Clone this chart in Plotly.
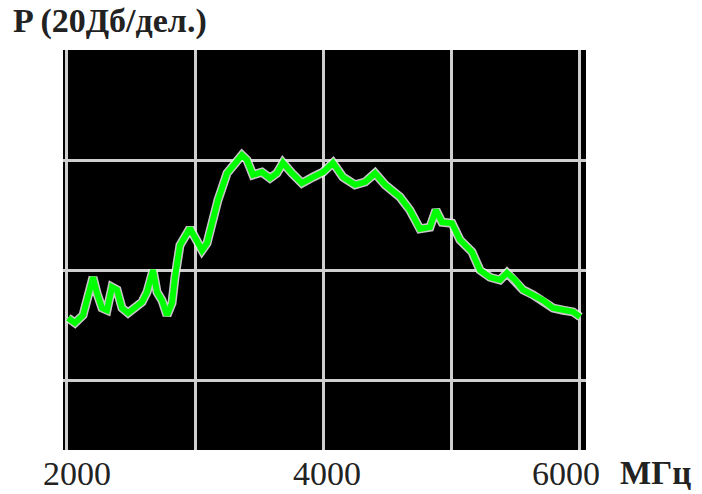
import plotly.graph_objects as go

# Frequency (MHz) and power level (dB, 20 dB per division)
freq = [2008, 2062, 2125, 2164, 2203, 2234, 2273, 2312, 2351, 2390, 2429, 2476,
        2530, 2585, 2624, 2671, 2702, 2741, 2780, 2819, 2842, 2858, 2881, 2959,
        2998, 3053, 3092, 3131, 3177, 3248, 3310, 3364, 3404, 3450, 3520, 3583,
        3637, 3684, 3754, 3801, 3832, 3918, 3996, 4074, 4152, 4246, 4324, 4402,
        4480, 4596, 4674, 4752, 4830, 4877, 4924, 5002, 5064, 5158, 5220, 5298,
        5376, 5431, 5494, 5556, 5634, 5712, 5790, 5868, 5946, 6001]
power = [-48.7, -49.6, -48.2, -44.9, -41.3, -44.2, -46.9, -47.3, -43.1, -43.6, -46.9, -47.8,
         -46.7, -45.8, -44.0, -40.0, -44.0, -45.5, -48.2, -46.0, -41.3, -38.7, -35.5, -32.4,
         -34.0, -36.4, -35.1, -31.5, -27.3, -22.4, -20.5, -19.1, -20.0, -22.7, -22.2, -23.3,
         -22.4, -20.5, -22.4, -23.3, -24.2, -23.1, -22.2, -20.5, -23.1, -24.5, -24.0, -22.4,
         -24.5, -26.7, -29.1, -32.5, -32.2, -29.1, -31.3, -31.5, -34.5, -36.7, -40.0, -41.3,
         -41.8, -40.5, -41.8, -43.6, -44.5, -45.5, -46.9, -47.3, -47.6, -48.5]

x_ticks = [2000, 4000, 6000]
x_grid = [2000, 3000, 4000, 5000, 6000]
y_grid = [-20, -40, -60]
y_label = "P (20Дб/дел.)"
x_unit = "МГц"

fig = go.Figure()
fig.add_trace(go.Scatter(x=freq, y=power, mode="lines",
                         line=dict(color="rgba(235,235,235,0.85)", width=9),
                         hoverinfo="skip", showlegend=False))
fig.add_trace(go.Scatter(x=freq, y=power, mode="lines",
                         line=dict(color="#00ff00", width=6),
                         showlegend=False))

font_serif = "Liberation Serif, Times New Roman, serif"

annotations = []
shifts = [10, 4, -14]
for v, s in zip(x_ticks, shifts):
    annotations.append(dict(x=v, y=0, xref="x", yref="paper", text=str(v),
                            showarrow=False, xshift=s, yshift=-3, yanchor="top",
                            font=dict(family=font_serif, size=34, color="#222")))
annotations.append(dict(x=1, y=0, xref="paper", yref="paper", text="<b>" + x_unit + "</b>",
                        showarrow=False, xshift=32, yshift=-3, xanchor="left", yanchor="top",
                        font=dict(family=font_serif, size=33, color="#222")))
annotations.append(dict(x=0, y=1, xref="paper", yref="paper", text="<b>" + y_label + "</b>",
                        showarrow=False, xshift=-52, yshift=8, xanchor="left", yanchor="bottom",
                        font=dict(family=font_serif, size=34, color="#222")))

fig.update_layout(
    width=702, height=494,
    margin=dict(l=63, r=116, t=50, b=44),
    paper_bgcolor="white", plot_bgcolor="black",
    xaxis=dict(range=[1969, 6047], tickvals=x_grid, showticklabels=False,
               showgrid=True, gridcolor="#cfcfcf", gridwidth=3, zeroline=False,
               showline=False, fixedrange=True),
    yaxis=dict(range=[-72.7, 0], tickvals=y_grid, showticklabels=False,
               showgrid=True, gridcolor="#cfcfcf", gridwidth=3, zeroline=False,
               showline=False, fixedrange=True),
    annotations=annotations,
)

fig.write_html("out.html")
